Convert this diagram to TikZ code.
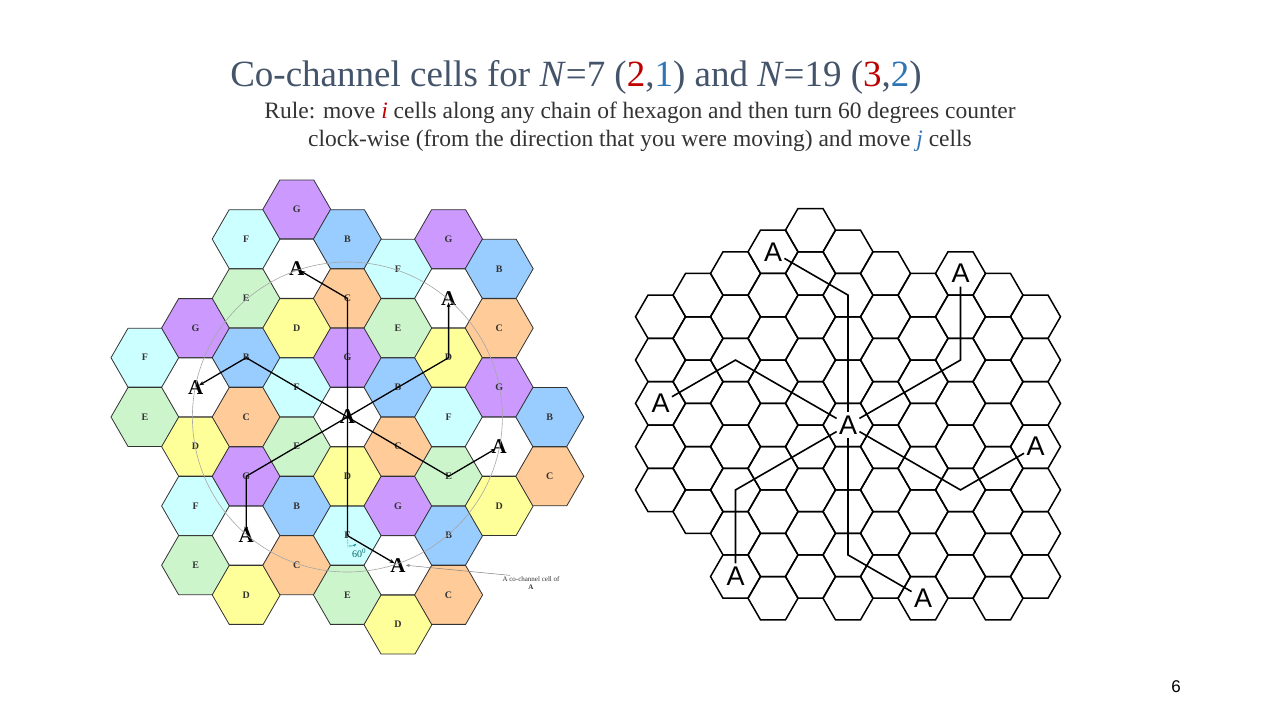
\documentclass[tikz,border=0pt]{standalone}
\usepackage{fontspec}
\setmainfont{Liberation Serif}
\newfontfamily\rsans{Liberation Sans}
\usetikzlibrary{arrows.meta}
\definecolor{titlec}{HTML}{44546A}
\definecolor{redc}{HTML}{C00000}
\definecolor{bluec}{HTML}{2E75B6}
\definecolor{colG}{HTML}{CC99FF}
\definecolor{colB}{HTML}{99CCFF}
\definecolor{colF}{HTML}{CCFFFF}
\definecolor{colE}{HTML}{CCF5CC}
\definecolor{colD}{HTML}{FFFF99}
\definecolor{colC}{HTML}{FFCC99}
\definecolor{colA}{HTML}{FFFFFF}
\tikzset{
  lhex/.style={draw=black!80, line width=0.8pt},
  rhex/.style={draw=black, line width=1.5pt},
  cellL/.style={font=\fontsize{10}{12}\selectfont\bfseries, text=black!80, inner sep=0pt},
  bigA/.style={font=\fontsize{21}{24}\selectfont\bfseries, inner sep=0pt},
  rA/.style={font=\rsans\fontsize{27}{30}\selectfont, circle, inner sep=0pt, minimum size=26pt},
  lconn/.style={line width=1.3pt, black},
  rconn/.style={line width=1.6pt, black},
}
\begin{document}
\begin{tikzpicture}[x=1pt,y=-1pt]
\useasboundingbox[fill=white] (0,0) rectangle (1280,720);
% title
\node[text=titlec, font=\fontsize{37}{40}\selectfont] (title) at (576,77)
 {Co-channel cells for \textit{N}=7 (\textcolor{redc}{2},\textcolor{bluec}{1}) and \textit{N}=19 (\textcolor{redc}{3},\textcolor{bluec}{2})};
\node[text=black!80, font=\fontsize{23.5}{28}\selectfont, align=center] (rule) at (640,127)
 {Rule: move \textcolor{redc}{\textit{i}} cells along any chain of hexagon and then turn 60 degrees counter\\
 clock-wise (from the direction that you were moving) and move \textcolor{bluec}{\textit{j}} cells};
\node[font=\rsans\fontsize{17}{20}\selectfont] (pnum) at (1176,687) {6};
% left grid
\foreach \c/\m/\L in {0/-1/F,0/0/E,
 1/-2/G,1/-1/A,1/0/D,1/1/F,1/2/E,
 2/-3/F,2/-2/E,2/-1/B,2/0/C,2/1/G,2/2/A,2/3/D,
 3/-4/G,3/-3/A,3/-2/D,3/-1/F,3/0/E,3/1/B,3/2/C,
 4/-3/B,4/-2/C,4/-1/G,4/0/A,4/1/D,4/2/F,4/3/E,
 5/-3/F,5/-2/E,5/-1/B,5/0/C,5/1/G,5/2/A,5/3/D,
 6/-3/G,6/-2/A,6/-1/D,6/0/F,6/1/E,6/2/B,6/3/C,
 7/-3/B,7/-2/C,7/-1/G,7/0/A,7/1/D,
 8/0/B,8/1/C}{
  \pgfmathsetmacro\xx{145+50.6*\c}
  \pgfmathsetmacro\yy{417+59.3*(\m+0.5*mod(\c,2))}
  \draw[lhex, fill=col\L, shift={(\xx,\yy)}] (0:34) -- (60:34) -- (120:34) -- (180:34) -- (240:34) -- (300:34) -- cycle;
  \if\L A
    \node[bigA] (L\c x\m) at (\xx,\yy) {A};
  \else
    \node[cellL] (L\c x\m) at (\xx,\yy) {\L};
  \fi
}
\draw[gray!70, line width=0.6pt] (L4x0.center) circle (155);
\draw[lconn, -{Stealth[length=5pt]}, shorten >=4pt] (L4x0.center) -- (L4x-2.center) -- (L3x-3.center);
\draw[lconn, -{Stealth[length=5pt]}, shorten >=4pt] (L4x0.center) -- (L2x-1.center) -- (L1x-1.center);
\draw[lconn, -{Stealth[length=5pt]}, shorten >=4pt] (L4x0.center) -- (L2x1.center) -- (L2x2.center);
\draw[lconn, -{Stealth[length=5pt]}, shorten >=4pt] (L4x0.center) -- (L4x2.center) -- (L5x2.center);
\draw[lconn, -{Stealth[length=5pt]}, shorten >=4pt] (L4x0.center) -- (L6x1.center) -- (L7x0.center);
\draw[lconn, -{Stealth[length=5pt]}, shorten >=4pt] (L4x0.center) -- (L6x-1.center) -- (L6x-2.center);
\coordinate (arcs) at (348,548);
\draw[teal, densely dotted, line width=0.6pt] (L4x2.center) -- (arcs);
\draw[teal, line width=0.6pt, -{Stealth[length=3pt]}] (349,546) arc[start angle=100, end angle=45, radius=8];
\node[text=teal!80!black, font=\fontsize{10}{12}\selectfont] (sixty) at (359,553) {60\textsuperscript{0}};
\node[font=\fontsize{7}{8}\selectfont, align=center, text=black!80, inner sep=1pt] (note) at (531,583) {A co-channel cell of\\ \textbf{A}};
\draw[gray, line width=0.5pt, -{Stealth[length=4pt]}] (note.160) -- (L5x2.east);
% right grid
\foreach \c/\a/\b in {-5/-3/1,-4/-3/2,-3/-4/3,-2/-4/4,-1/-5/3,0/-4/4,1/-4/3,2/-3/4,3/-4/3,4/-3/4,5/-3/3}{
  \foreach \m in {\a,...,\b}{
    \pgfmathsetmacro\xx{848+37.5*\c}
    \pgfmathsetmacro\yy{425+43.3*(\m+0.5*abs(mod(\c,2)))}
    \draw[rhex, shift={(\xx,\yy)}] (0:25) -- (60:25) -- (120:25) -- (180:25) -- (240:25) -- (300:25) -- cycle;
    \coordinate (R\c x\m) at (\xx,\yy);
  }
}
\node[rA] (Ac) at (R0x0) {A};
\node[rA] (A1) at (R-2x-4) {A};
\node[rA] (A2) at (R3x-4) {A};
\node[rA] (A3) at (R-5x-1) {A};
\node[rA] (A4) at (R5x0) {A};
\node[rA] (A5) at (R-3x3) {A};
\node[rA] (A6) at (R2x4) {A};
\draw[rconn] (Ac) -- (R0x-3) -- (A1);
\draw[rconn] (Ac) -- (R3x-2) -- (A2);
\draw[rconn] (Ac) -- (R-3x-2) -- (A3);
\draw[rconn] (Ac) -- (R3x1) -- (A4);
\draw[rconn] (Ac) -- (R-3x1) -- (A5);
\draw[rconn] (Ac) -- (R0x3) -- (A6);
\end{tikzpicture}
\end{document}
